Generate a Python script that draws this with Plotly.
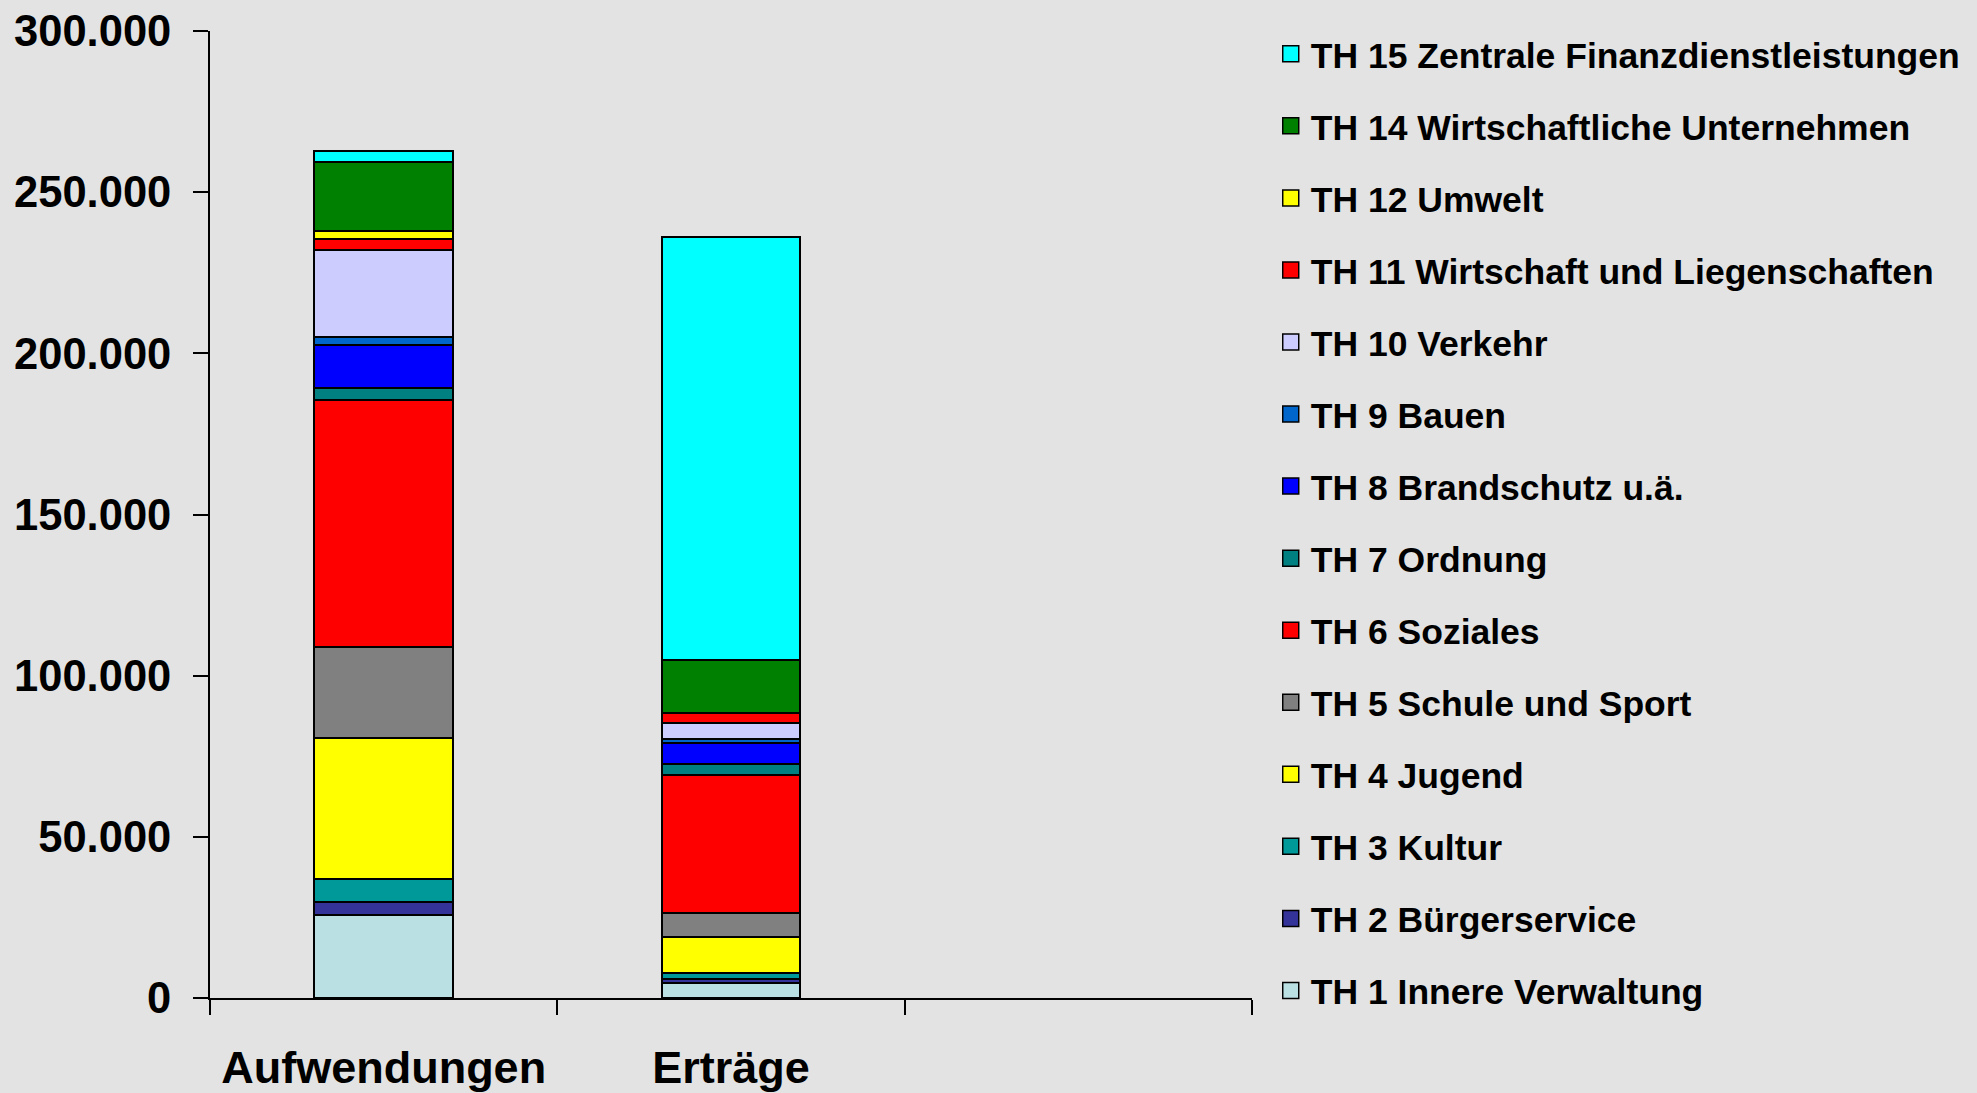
import plotly.graph_objects as go

# Kategorien der x-Achse (dritte Spalte bleibt leer)
categories = ["Aufwendungen", "Erträge", " "]

# Teilhaushalte, von unten nach oben gestapelt
produkte = [
    "TH 1 Innere Verwaltung",
    "TH 2 Bürgerservice",
    "TH 3 Kultur",
    "TH 4 Jugend",
    "TH 5 Schule und Sport",
    "TH 6 Soziales",
    "TH 7 Ordnung",
    "TH 8 Brandschutz u.ä.",
    "TH 9 Bauen",
    "TH 10 Verkehr",
    "TH 11 Wirtschaft und Liegenschaften",
    "TH 12 Umwelt",
    "TH 14 Wirtschaftliche Unternehmen",
    "TH 15 Zentrale Finanzdienstleistungen",
]

# Werte in Tsd. EUR
aufwendungen = [25700, 4100, 7100, 43900, 28100, 76700, 3600, 13500, 2400, 26900, 3500, 2400, 21600, 3400]
ertraege = [4600, 1300, 1800, 11200, 7400, 42800, 3400, 6700, 1100, 5100, 2900, 0, 16500, 131200]

farben = [
    "#bbe0e3", "#333399", "#009999", "#ffff00", "#808080", "#ff0000", "#008080",
    "#0000ff", "#0066cc", "#ccccff", "#ff0000", "#ffff00", "#008000", "#00ffff",
]

bg = "#e3e3e3"
schrift = "Liberation Sans, Arial, sans-serif"

fig = go.Figure()

# gestapelte Balken
for name, a, e, c in zip(produkte, aufwendungen, ertraege, farben):
    fig.add_trace(go.Bar(
        x=categories[:2],
        y=[a, e],
        name=name,
        showlegend=False,
        marker=dict(color=c, line=dict(color="black", width=2)),
    ))

# Legende mit grösseren Quadraten, oberster Teilhaushalt zuerst
for name, c in reversed(list(zip(produkte, farben))):
    fig.add_trace(go.Scatter(
        x=[None], y=[None],
        mode="markers",
        name=name,
        legendgroup=name,
        marker=dict(symbol="square", size=16, color=c, line=dict(color="black", width=1.5)),
    ))

fig.update_layout(
    width=1977,
    height=1093,
    barmode="stack",
    bargap=0.6,
    separators=",.",
    paper_bgcolor=bg,
    plot_bgcolor=bg,
    font=dict(family=schrift, color="black", weight="bold"),
    margin=dict(l=210, r=725, t=31, b=95),
    legend=dict(
        x=1.684, xanchor="right",
        y=1.007, yanchor="top",
        traceorder="grouped",
        tracegroupgap=22.9,
        maxheight=1,
        font=dict(size=35.5, family=schrift, weight="bold"),
        bgcolor="rgba(0,0,0,0)",
    ),
)

fig.update_xaxes(
    type="category",
    categoryorder="array",
    categoryarray=categories,
    range=[-0.5, 2.5],
    automargin=False,
    showline=True, linecolor="black", linewidth=2,
    ticks="outside", tickson="boundaries", ticklen=15, tickwidth=2, tickcolor="black",
    ticklabelstandoff=29,
    tickfont=dict(size=45, family=schrift, weight="bold"),
    showgrid=False, zeroline=False,
)

fig.update_yaxes(
    range=[0, 300000],
    dtick=50000,
    tickformat=",d",
    automargin=False,
    showline=True, linecolor="black", linewidth=2,
    ticks="outside", ticklen=15, tickwidth=2, tickcolor="black",
    ticklabelstandoff=13,
    tickfont=dict(size=43.5, family=schrift, weight="bold"),
    showgrid=False, zeroline=False,
)

fig.write_html(
    "out.html",
    config={"displayModeBar": False},
    post_script="document.body.style.margin = '0';",
)
